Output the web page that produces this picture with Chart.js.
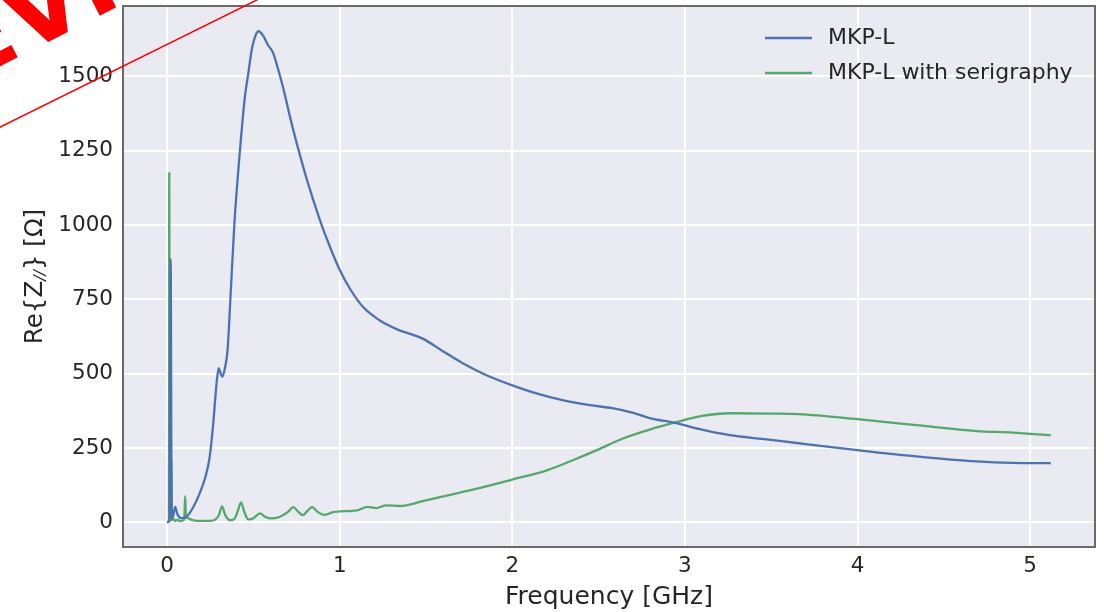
<!DOCTYPE html>
<html><head><meta charset="utf-8">
<script src="https://cdn.jsdelivr.net/npm/chart.js@4"></script>
<style>html,body{margin:0;padding:0;background:#fff}#wrap{width:1104px;height:612px}</style>
</head><body><div id="wrap"><canvas id="c" width="1104" height="612"></canvas></div>
<script>
const seriesNames = ['MKP-L', 'MKP-L with serigraphy'];
const freqBlue = [0.000,0.012,0.020,0.026,0.035,0.046,0.060,0.080,0.110,0.150,0.190,0.220,0.245,0.265,0.285,0.298,0.310,0.320,0.335,0.350,0.365,0.390,0.420,0.450,0.470,0.490,0.510,0.530,0.555,0.585,0.613,0.640,0.670,0.730,0.810,0.885,0.943,1.000,1.060,1.134,1.230,1.330,1.480,1.600,1.710,1.850,2.000,2.150,2.290,2.450,2.580,2.700,2.800,2.950,3.080,3.260,3.460,3.660,4.000,4.340,4.690,4.900,5.120];
const valBlue = [0,4,886,12,22,52,26,14,18,50,100,150,215,320,460,519,500,490,520,580,738,1010,1240,1430,1510,1590,1635,1652,1638,1605,1580,1530,1466,1321,1152,1017,927,849,785,725,680,650,618,575,536,495,461,432,411,394,384,368,350,334,314,293,280,266,243,222,205,200,199];
const freqGreen = [0.000,0.006,0.010,0.012,0.015,0.019,0.022,0.025,0.028,0.035,0.045,0.060,0.075,0.090,0.099,0.104,0.109,0.120,0.135,0.160,0.200,0.250,0.280,0.300,0.318,0.336,0.365,0.390,0.410,0.428,0.447,0.470,0.500,0.538,0.570,0.600,0.650,0.700,0.730,0.760,0.785,0.815,0.840,0.870,0.910,0.960,1.000,1.060,1.100,1.160,1.210,1.270,1.350,1.480,1.600,1.770,2.000,2.200,2.350,2.490,2.640,2.800,2.950,3.100,3.260,3.500,3.660,4.000,4.340,4.690,4.900,5.120];
const valGreen = [0,3,8,1175,10,6,12,209,8,12,5,8,4,6,10,88,18,14,10,6,5,5,10,25,54,25,7,12,40,67,35,10,14,30,18,13,18,35,51,35,24,40,51,36,25,34,37,38,40,52,48,57,55,71,87,110,144,175,209,243,282,313,337,358,367,366,364,347,327,307,302,293];
const xTickValues = [0, 1, 2, 3, 4, 5];
const yTickValues = [0, 250, 500, 750, 1000, 1250, 1500];
const xTitle = 'Frequency [GHz]';
const yTitleParts = ['Re{Z', '//', '} [Ω]'];
const stampText = 'REVIEW';

const seriesColors = ['#4C72B0', '#55A868'];
const FONT = '"DejaVu Sans", "Liberation Sans", sans-serif';
const TEXT = '#262626';

function pairs(xs, ys) { return xs.map((x, i) => ({x: x, y: ys[i]})); }
function noPad(s) { s.paddingTop = 0; s.paddingBottom = 0; s.paddingLeft = 0; s.paddingRight = 0; }

const bgPlugin = {
  id: 'bg',
  beforeDraw(chart) {
    const {ctx, chartArea: a} = chart;
    ctx.save();
    ctx.fillStyle = '#EAEAF2';
    ctx.fillRect(a.left, a.top, a.right - a.left, a.bottom - a.top);
    ctx.restore();
  }
};

const decoPlugin = {
  id: 'deco',
  afterDatasetsDraw(chart) {
    const {ctx} = chart;
    ctx.save();
    const rows = [38, 73];
    chart.data.datasets.forEach((ds, i) => {
      ctx.strokeStyle = ds.borderColor;
      ctx.lineWidth = 2.3;
      ctx.beginPath();
      ctx.moveTo(765, rows[i]);
      ctx.lineTo(812, rows[i]);
      ctx.stroke();
      ctx.fillStyle = TEXT;
      ctx.font = '22px ' + FONT;
      ctx.textAlign = 'left';
      ctx.textBaseline = 'middle';
      ctx.fillText(ds.label, 828, rows[i]);
    });
    ctx.restore();
  },
  afterDraw(chart) {
    const {ctx, chartArea: a} = chart;
    ctx.save();
    ctx.strokeStyle = '#6a6a6a';
    ctx.lineWidth = 2;
    ctx.strokeRect(a.left, a.top, a.right - a.left, a.bottom - a.top);
    ctx.restore();
    ctx.save();
    const cy = (a.top + a.bottom) / 2;
    ctx.translate(36, cy);
    ctx.rotate(-Math.PI / 2);
    const parts = [[yTitleParts[0], '24.5px ' + FONT, 0], [yTitleParts[1], 'italic 16px ' + FONT, 5], [yTitleParts[2], '24.5px ' + FONT, 0]];
    let total = 0;
    parts.forEach(p => { ctx.font = p[1]; total += ctx.measureText(p[0]).width; });
    let x = -total / 2;
    ctx.fillStyle = TEXT;
    ctx.textBaseline = 'middle';
    ctx.textAlign = 'left';
    parts.forEach(p => { ctx.font = p[1]; ctx.fillText(p[0], x, p[2]); x += ctx.measureText(p[0]).width; });
    ctx.restore();
    // red stamp
    ctx.save();
    ctx.strokeStyle = '#ff0000';
    ctx.lineWidth = 1.5;
    ctx.beginPath();
    ctx.moveTo(-10, 132);
    ctx.lineTo(275, -9);
    ctx.stroke();
    ctx.font = 'bold 98px ' + FONT;
    const ang = -27 * Math.PI / 180;
    const lx = ctx.measureText(stampText.slice(0, 2)).width + ctx.measureText(stampText.charAt(2)).width / 2;
    const ax = 58 - lx * Math.cos(ang), ay = 37 - lx * Math.sin(ang);
    ctx.translate(ax, ay);
    ctx.rotate(ang);
    ctx.fillStyle = '#ff0000';
    ctx.textAlign = 'left';
    ctx.textBaseline = 'alphabetic';
    ctx.fillText(stampText, 0, 0);
    ctx.restore();
  }
};

new Chart(document.getElementById('c'), {
  type: 'line',
  data: {
    datasets: [
      {label: seriesNames[0], data: pairs(freqBlue, valBlue), borderColor: seriesColors[0], backgroundColor: seriesColors[0]},
      {label: seriesNames[1], data: pairs(freqGreen, valGreen), borderColor: seriesColors[1], backgroundColor: seriesColors[1]}
    ]
  },
  options: {
    responsive: false,
    animation: false,
    layout: {padding: {left: 0, right: 9, top: 6, bottom: 0}},
    plugins: {legend: {display: false}, tooltip: {enabled: false}},
    elements: {point: {radius: 0}, line: {borderWidth: 2.3, cubicInterpolationMode: 'monotone'}},
    scales: {
      x: {
        type: 'linear', min: -0.256, max: 5.376,
        afterBuildTicks: s => { s.ticks = xTickValues.map(v => ({value: v})); },
        afterFit: s => { s.height = 65; noPad(s); },
        grid: {color: '#ffffff', lineWidth: 2, drawTicks: false},
        border: {display: false},
        ticks: {padding: 7, color: TEXT, font: {family: FONT, size: 21.5}, callback: v => String(v), maxRotation: 0},
        title: {display: true, text: xTitle, color: TEXT, font: {family: FONT, size: 25}, padding: {top: 0, bottom: 0}}
      },
      y: {
        type: 'linear', min: -83, max: 1737,
        afterBuildTicks: s => { s.ticks = yTickValues.map(v => ({value: v})); },
        afterFit: s => { s.width = 123; noPad(s); },
        grid: {color: '#ffffff', lineWidth: 2, drawTicks: false},
        border: {display: false},
        ticks: {padding: 10, color: TEXT, font: {family: FONT, size: 21.5}, callback: v => String(v)}
      }
    }
  },
  plugins: [bgPlugin, decoPlugin]
});
</script></body></html>
